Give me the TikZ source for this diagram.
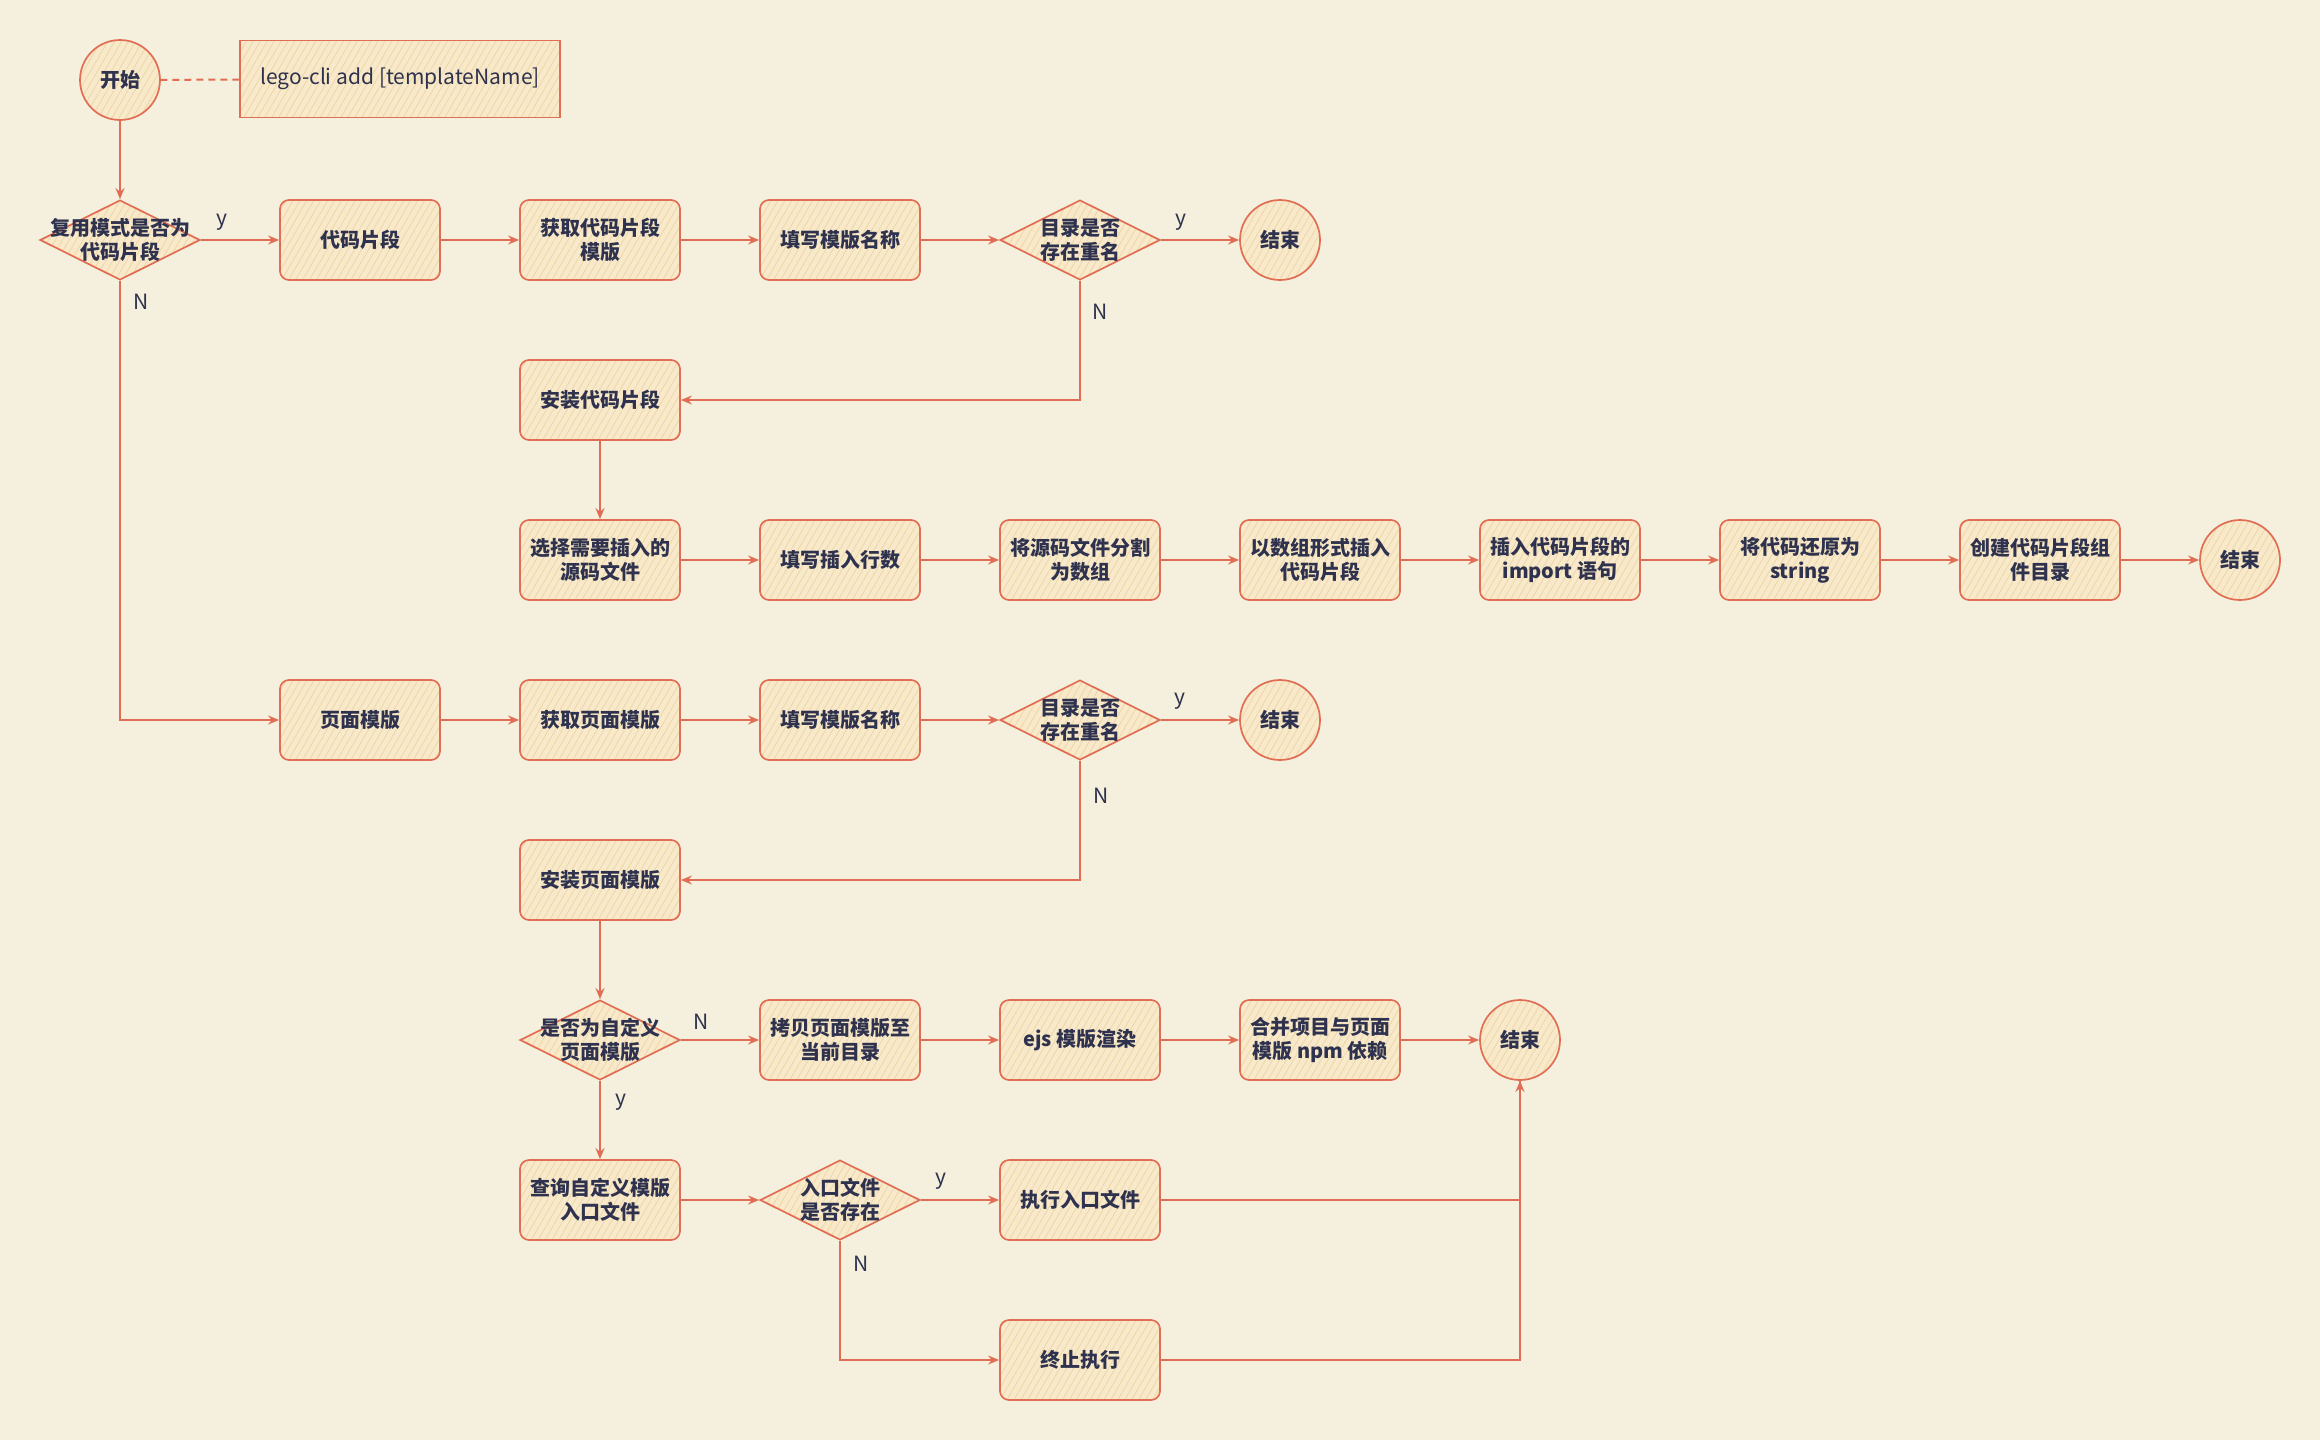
\documentclass[tikz,border=0pt]{standalone}
\usepackage{fontspec}
\setmainfont{Noto Sans CJK SC}
\usetikzlibrary{arrows.meta,patterns.meta,shapes.geometric}

\definecolor{paper}{RGB}{245,240,221}
\definecolor{edge}{RGB}{225,110,84}
\definecolor{boxfill}{RGB}{247,233,201}
\definecolor{hatch}{RGB}{239,214,168}
\definecolor{ink}{RGB}{46,50,78}

\begin{document}
\begin{tikzpicture}[x=1pt,y=-1pt,
  shapebase/.style={draw=edge, line width=1.7pt, preaction={fill=boxfill},
    pattern={Lines[angle=60,distance=6pt,line width=0.8pt]}, pattern color=hatch},
  boxtext/.style={align=center, text=ink, font=\bfseries\fontsize{20}{24}\selectfont},
  proc/.style={shapebase, boxtext, rectangle, rounded corners=9pt,
    minimum width=160pt, minimum height=80pt, inner sep=0pt},
  note/.style={shapebase, rectangle, minimum width=320pt, minimum height=77pt,
    inner sep=0pt, text=ink, font=\fontsize{21}{24}\selectfont},
  term/.style={shapebase, boxtext, circle, minimum size=80pt, inner sep=0pt},
  decision/.style={shapebase, diamond, minimum width=160pt, minimum height=80pt,
    inner sep=0pt, label={[boxtext]center:#1}},
  flow/.style={draw=edge, line width=2pt, -{Stealth[length=11pt,width=9pt]}},
  link/.style={draw=edge, line width=2pt},
  tag/.style={text=ink, font=\fontsize{21}{24}\selectfont, inner sep=0pt}
]
\fill[paper] (0,0) rectangle (2320,1440);
\useasboundingbox (0,0) rectangle (2320,1440);

% command entry
\node[term] (start) at (120,80) {开始};
\node[note] (cmd) at (400,79) {lego-cli add [templateName]};

% reuse-mode decision
\node[decision={复用模式是否为\\代码片段}] (mode) at (120,240) {};

% code-snippet branch
\node[proc] (snip) at (360,240) {代码片段};
\node[proc] (getsnip) at (600,240) {获取代码片段\\模版};
\node[proc] (name1) at (840,240) {填写模版名称};
\node[decision={目录是否\\存在重名}] (dup1) at (1080,240) {};
\node[term] (end1) at (1280,240) {结束};
\node[proc] (inst1) at (600,400) {安装代码片段};

\node[proc] (src) at (600,560) {选择需要插入的\\源码文件};
\node[proc] (lines) at (840,560) {填写插入行数};
\node[proc] (split) at (1080,560) {将源码文件分割\\为数组};
\node[proc] (insert) at (1320,560) {以数组形式插入\\代码片段};
\node[proc] (imp) at (1560,560) {插入代码片段的\\import 语句};
\node[proc] (str) at (1800,560) {将代码还原为\\string};
\node[proc] (mkdir) at (2040,560) {创建代码片段组\\件目录};
\node[term] (end2) at (2240,560) {结束};

% page-template branch
\node[proc] (page) at (360,720) {页面模版};
\node[proc] (getpage) at (600,720) {获取页面模版};
\node[proc] (name2) at (840,720) {填写模版名称};
\node[decision={目录是否\\存在重名}] (dup2) at (1080,720) {};
\node[term] (end3) at (1280,720) {结束};
\node[proc] (inst2) at (600,880) {安装页面模版};

\node[decision={是否为自定义\\页面模版}] (custom) at (600,1040) {};
\node[proc] (copy) at (840,1040) {拷贝页面模版至\\当前目录};
\node[proc] (ejs) at (1080,1040) {ejs 模版渲染};
\node[proc] (merge) at (1320,1040) {合并项目与页面\\模版 npm 依赖};
\node[term] (end4) at (1520,1040) {结束};

\node[proc] (query) at (600,1200) {查询自定义模版\\入口文件};
\node[decision={入口文件\\是否存在}] (entry) at (840,1200) {};
\node[proc] (exec) at (1080,1200) {执行入口文件};
\node[proc] (stop) at (1080,1360) {终止执行};

% connectors
\draw[link, dashed, dash pattern=on 7pt off 5pt] (start) -- (cmd);
\draw[flow] (start) -- (mode);
\draw[flow] (mode) -- (snip);
\draw[flow] (mode) |- (page);
\draw[flow] (snip) -- (getsnip);
\draw[flow] (getsnip) -- (name1);
\draw[flow] (name1) -- (dup1);
\draw[flow] (dup1) -- (end1);
\draw[flow] (dup1) |- (inst1);
\draw[flow] (inst1) -- (src);
\draw[flow] (src) -- (lines);
\draw[flow] (lines) -- (split);
\draw[flow] (split) -- (insert);
\draw[flow] (insert) -- (imp);
\draw[flow] (imp) -- (str);
\draw[flow] (str) -- (mkdir);
\draw[flow] (mkdir) -- (end2);

\draw[flow] (page) -- (getpage);
\draw[flow] (getpage) -- (name2);
\draw[flow] (name2) -- (dup2);
\draw[flow] (dup2) -- (end3);
\draw[flow] (dup2) |- (inst2);
\draw[flow] (inst2) -- (custom);
\draw[flow] (custom) -- (copy);
\draw[flow] (copy) -- (ejs);
\draw[flow] (ejs) -- (merge);
\draw[flow] (merge) -- (end4);
\draw[flow] (custom) -- (query);
\draw[flow] (query) -- (entry);
\draw[flow] (entry) -- (exec);
\draw[flow] (entry) |- (stop);
\draw[link] (stop) -| (end4);
\draw[flow] (exec) -| (end4);

% branch labels
\node[tag] (ly1) at (222,222) {y};
\node[tag] (ln1) at (141,302) {N};
\node[tag] (ly2) at (1181,222) {y};
\node[tag] (ln2) at (1100,312) {N};
\node[tag] (ly3) at (1180,701) {y};
\node[tag] (ln3) at (1101,796) {N};
\node[tag] (ln4) at (701,1022) {N};
\node[tag] (ly4) at (621,1102) {y};
\node[tag] (ly5) at (941,1181) {y};
\node[tag] (ln5) at (861,1264) {N};
\end{tikzpicture}
\end{document}
